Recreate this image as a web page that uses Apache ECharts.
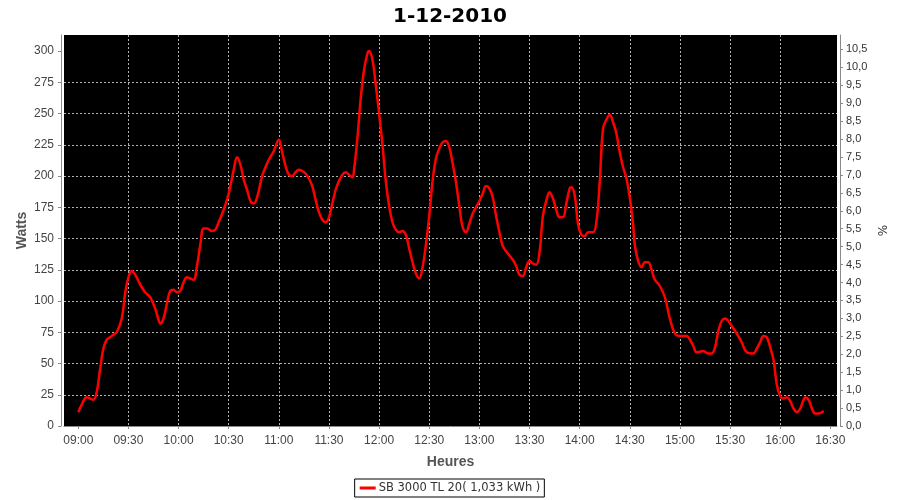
<!DOCTYPE html>
<html>
<head>
<meta charset="utf-8">
<script src="https://cdn.jsdelivr.net/npm/echarts@6/dist/echarts.min.js"></script>
<style>html,body{margin:0;padding:0;background:#fff}#c{width:900px;height:500px}</style>
</head>
<body>
<div id="c"></div>
<script>
const titleText = "1-12-2010";
const seriesName = "SB 3000 TL 20( 1,033 kWh )";
const xTickLabels = ["09:00","09:30","10:00","10:30","11:00","11:30","12:00","12:30","13:00","13:30","14:00","14:30","15:00","15:30","16:00","16:30"];
const leftTicks = [0,25,50,75,100,125,150,175,200,225,250,275,300];
const rightTicks = [0,0.5,1,1.5,2,2.5,3,3.5,4,4.5,5,5.5,6,6.5,7,7.5,8,8.5,9,9.5,10,10.5];
const times = ["09:00","09:02","09:05","09:07","09:09","09:11","09:13","09:15","09:17","09:19","09:21","09:23","09:26","09:28","09:30","09:32","09:34","09:36","09:38","09:40","09:43","09:46","09:48","09:49","09:51","09:53","09:55","09:57","09:59","10:01","10:03","10:05","10:07","10:09","10:11","10:13","10:15","10:17","10:20","10:22","10:24","10:27","10:30","10:33","10:35","10:37","10:39","10:41","10:43","10:45","10:47","10:50","10:52","10:54","10:57","11:00","11:02","11:04","11:06","11:08","11:10","11:12","11:14","11:16","11:18","11:20","11:22","11:24","11:26","11:28","11:30","11:32","11:34","11:36","11:38","11:40","11:42","11:44","11:45","11:47","11:49","11:51","11:53","11:54","11:56","11:58","12:00","12:02","12:04","12:06","12:08","12:10","12:12","12:14","12:16","12:18","12:20","12:22","12:24","12:26","12:28","12:30","12:32","12:34","12:36","12:38","12:40","12:42","12:44","12:46","12:48","12:50","12:52","12:54","12:56","12:58","13:00","13:02","13:04","13:06","13:08","13:10","13:12","13:14","13:17","13:20","13:22","13:24","13:26","13:28","13:30","13:32","13:34","13:36","13:38","13:40","13:42","13:44","13:46","13:48","13:50","13:52","13:54","13:55","13:57","13:59","14:01","14:03","14:05","14:08","14:10","14:12","14:14","14:16","14:18","14:20","14:22","14:24","14:26","14:28","14:30","14:32","14:33","14:35","14:37","14:39","14:41","14:43","14:45","14:48","14:51","14:54","14:57","15:00","15:04","15:06","15:08","15:10","15:14","15:17","15:19","15:21","15:23","15:25","15:27","15:29","15:31","15:34","15:37","15:40","15:44","15:46","15:48","15:50","15:52","15:54","15:56","15:58","16:00","16:02","16:04","16:06","16:08","16:10","16:12","16:14","16:15","16:17","16:19","16:21","16:23","16:26"];
const watts = [11,17,23,22,21,27,45,62,69,71,73,75,86,106,119,124,121,116,111,107,103,94,85,82,86,98,108,109,107,108,115,119,118,117,128,145,158,158,156,157,163,173,186,205,215,209,197,189,180,178,183,200,207,213,220,229,219,208,201,200,203,205,204,202,198,192,181,171,165,163,167,178,189,196,201,203,201,199,205,230,262,285,298,300,293,273,250,225,196,176,163,157,155,156,153,142,131,122,118,127,145,168,196,214,222,227,228,223,210,195,176,159,155,162,170,175,180,186,192,190,183,168,155,144,138,133,128,121,120,127,132,130,129,139,168,180,187,182,173,167,167,178,190,191,185,162,153,152,155,155,163,195,238,245,249,243,234,219,207,198,183,161,145,132,127,131,131,125,117,112,103,86,74,72,72,69,64,59,60,58,58,63,76,84,86,84,80,74,67,59,58,62,67,72,71,63,53,33,24,22,23,20,14,11,14,21,23,21,14,10,10,12];

function toMin(s){const p=s.split(":");return (+p[0])*60+(+p[1]);}
function fmtMin(v){const h=Math.floor(v/60),m=Math.round(v-h*60);return String(h).padStart(2,"0")+":"+String(m).padStart(2,"0");}
const data = times.map((t,i)=>[toMin(t), watts[i]]);
const xTickVals = xTickLabels.map(toMin);

const gridLine = {show:true, showMinLine:false, showMaxLine:false, lineStyle:{color:"#b4b4b4", type:[2,2], width:1}};
const axisLine = {show:true, lineStyle:{color:"#8a8a8a", width:1}};
const axisTick = {show:true, length:3, lineStyle:{color:"#8a8a8a"}};
const labelFont = {color:"#444", fontFamily:"Liberation Sans", fontSize:12};
const nameFont = {fontFamily:"Liberation Sans", fontWeight:"bold", fontSize:14, color:"#555"};

const chart = echarts.init(document.getElementById("c"), null, {renderer:"canvas"});
chart.setOption({
  animation:false,
  backgroundColor:"#fff",
  title:{text:titleText, left:"center", top:2, textStyle:{fontFamily:"DejaVu Sans", fontWeight:"bold", fontSize:20, color:"#000"}},
  grid:{left:64, right:63, top:35, bottom:74, show:true, backgroundColor:"#000", borderWidth:0},
  legend:{bottom:3, left:"center", data:[seriesName], itemWidth:16, itemHeight:3, itemGap:4,
    icon:"rect", borderColor:"#000", borderWidth:1, padding:[3,4,3,5],
    textStyle:{fontFamily:"DejaVu Sans", fontSize:11.5, color:"#333", padding:[0,0,0,-2]}},
  xAxis:{type:"value", min:531.44, max:994, offset:3,
    name:"Heures", nameLocation:"middle", nameGap:26,
    nameTextStyle:nameFont,
    axisLine:axisLine,
    axisTick:Object.assign({customValues:xTickVals}, axisTick),
    axisLabel:Object.assign({customValues:xTickVals, margin:6, formatter:fmtMin}, labelFont),
    splitLine:gridLine},
  yAxis:[
    {type:"value", min:0, max:312.8, offset:3, position:"left",
     name:"Watts", nameLocation:"middle", nameGap:32, nameMoveOverlap:false,
     nameTextStyle:nameFont,
     axisLine:axisLine,
     axisTick:Object.assign({customValues:leftTicks}, axisTick),
     axisLabel:Object.assign({customValues:leftTicks, margin:7}, labelFont),
     splitLine:gridLine},
    {type:"value", min:0, max:10.9, offset:3, position:"right",
     name:"%", nameLocation:"middle", nameGap:37,
     nameTextStyle:{fontFamily:"DejaVu Sans", fontSize:12, color:"#333"},
     axisLine:axisLine,
     axisTick:Object.assign({customValues:rightTicks}, axisTick),
     axisLabel:{customValues:rightTicks, margin:6, color:"#333", fontFamily:"Liberation Sans", fontSize:11,
       formatter:v=>v.toFixed(1).replace(".",",")},
     splitLine:{show:false}}
  ],
  series:[{name:seriesName, type:"line", data:data, yAxisIndex:0, showSymbol:false, smooth:0.4,
    lineStyle:{color:"#ff0000", width:2.5}, itemStyle:{color:"#ff0000"}}]
});
</script>
</body>
</html>
